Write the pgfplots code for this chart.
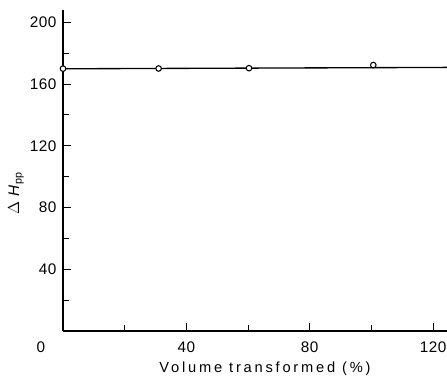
\documentclass[border=0pt]{standalone}
\usepackage{pgfplots}
\pgfplotsset{compat=1.18}
\usepackage{fontspec}
\setmainfont{Liberation Sans}
\newfontfamily\spaced[LetterSpace=3]{Liberation Sans}
\newfontfamily\wide[LetterSpace=19]{Liberation Sans}
\begin{document}
\begin{tikzpicture}
\begin{axis}[
  name=ax,
  width=288pt, height=240.75pt, scale only axis,
  xmin=0, xmax=124.5, ymin=0, ymax=208,
  axis x line*=bottom, axis y line*=left,
  axis line style={-, line width=0.9pt},
  tick align=inside,
  major tick length=6pt, minor tick length=4.5pt,
  tick style={line width=0.8pt, black},
  xtick={40,80,120}, minor xtick={20,60,100},
  ytick={40,80,120,160,200}, minor ytick={20,60,100,140,180},
  /pgf/number format/assume math mode=true,
  tick label style={font=\fontsize{11.5}{14}\spaced},
  xticklabel style={anchor=north, yshift=-4.5pt},
  yticklabel style={xshift=-1.5pt},
  clip=false,
]
\addplot[black, line width=1pt, no marks] coordinates {(0,169.9) (124.5,170.8)};
\addplot[black, only marks, mark=*, mark size=2.1pt, mark options={fill=white, line width=0.8pt}]
  coordinates {(0,170) (31,170.1) (60.3,170.3) (100.6,172.3)};
\end{axis}
\node[font=\fontsize{11.5}{14}\spaced, anchor=center] at ([shift={(-16.5pt,-12pt)}]ax.south west) {0};
\node[font=\fontsize{11}{14}\wide, anchor=center] at ([shift={(151.5pt,-28.5pt)}]ax.south west) {Volume transformed (\%)};
\node[font=\fontsize{11.5}{14}\spaced, anchor=center, rotate=90] at ([shift={(-35.25pt,103.5pt)}]ax.south west) {$\Delta$ \textit{H}\textsubscript{pp}};
\pgfresetboundingbox
\path[use as bounding box] ([shift={(-47.25pt,-37.5pt)}]ax.south west) rectangle ([shift={(0pt,7.5pt)}]ax.north east);
\end{tikzpicture}
\end{document}
